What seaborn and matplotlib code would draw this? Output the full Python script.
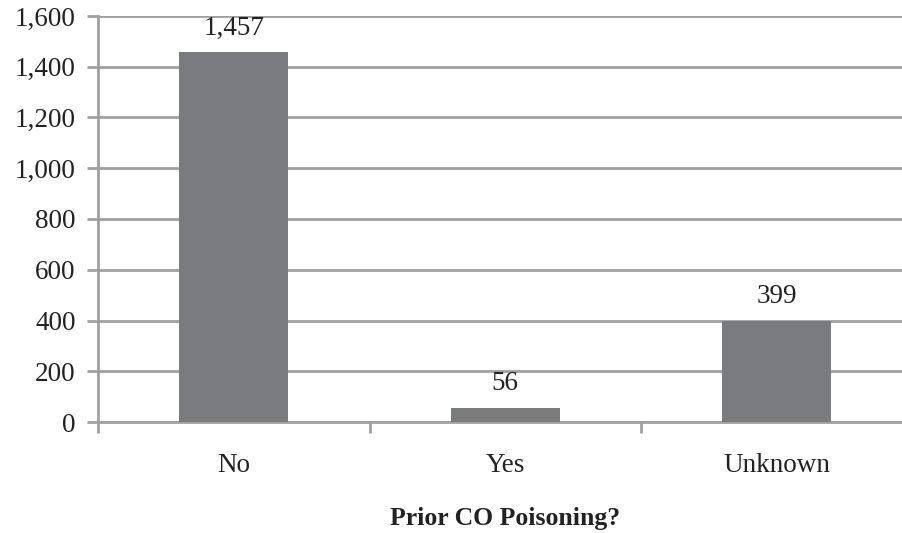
import matplotlib
matplotlib.use("Agg")
import matplotlib.pyplot as plt
import seaborn as sns
import pandas as pd

categories = ["No", "Yes", "Unknown"]
counts = [1457, 56, 399]
yticks = [0, 200, 400, 600, 800, 1000, 1200, 1400, 1600]
xlabel = "Prior CO Poisoning?"

sns.set_theme(style="white")
plt.rcParams['font.family'] = ['Liberation Serif', 'DejaVu Serif']

df = pd.DataFrame({"cat": categories, "n": counts})

fig = plt.figure(figsize=(9.02, 5.33), dpi=100)
ax = fig.add_axes([98/902, 111/533, 814.5/902, 406/533])
sns.barplot(data=df, x="cat", y="n", color="#7a7b7f", saturation=1, width=0.4, ax=ax, zorder=3)
for p in ax.patches:
    p.set_edgecolor("none")

ax.set_ylim(0, 1600)
ax.set_xlim(-0.5, 2.5)
ax.set_yticks(yticks)
ax.set_yticklabels([f"{v:,}" for v in yticks])
ax.yaxis.grid(True, color="#a0a0a0", linewidth=2, zorder=0)
ax.set_axisbelow(True)

for s in ["top", "right"]:
    ax.spines[s].set_visible(False)
for s in ["left", "bottom"]:
    ax.spines[s].set_color("#a0a0a0")
    ax.spines[s].set_linewidth(2)

ax.set_xticks([-0.5, 0.5, 1.5, 2.5], minor=False)
ax.set_xticklabels([])
ax.set_xticks([0, 1, 2], minor=True)
ax.set_xticklabels(categories, minor=True)
ax.tick_params(axis="x", which="major", length=8, width=2, color="#a0a0a0", direction="out", bottom=True)
ax.tick_params(axis="x", which="minor", length=0, labelsize=19.5, pad=22, colors="#222222")
ax.tick_params(axis="y", length=8, width=2, color="#a0a0a0", direction="out", left=True, labelsize=19.5, labelcolor="#222222", pad=8)

for i, v in enumerate(counts):
    ax.text(i, v + 45, f"{v:,}", ha="center", va="bottom", fontsize=19.5, color="#222222")

ax.set_xlabel(xlabel, fontsize=18.5, fontweight="bold", labelpad=21, color="#222222")
ax.set_ylabel("")

fig.savefig("out.png", dpi=100)
